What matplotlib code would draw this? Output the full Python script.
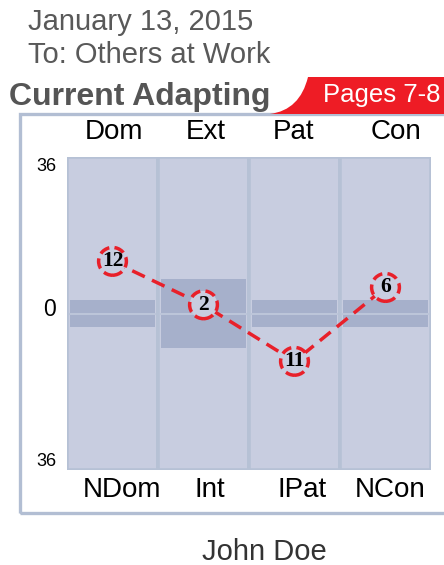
import matplotlib
matplotlib.use('Agg')
import matplotlib.pyplot as plt
from matplotlib.patches import Rectangle, PathPatch
from matplotlib.path import Path

top_labels = ['Dom', 'Ext', 'Pat', 'Con']
bottom_labels = ['NDom', 'Int', 'IPat', 'NCon']
scores = [12, 2, -11, 6]
band_half = [3, 8, 3, 3]
axis_max = 36

W, H = 444, 565


def px(x, y):
    # pixel position -> figure fraction
    return x / W, 1 - y / H


fig = plt.figure(figsize=(W / 100, H / 100), dpi=100)
plt.rcParams['font.family'] = ['Liberation Sans', 'DejaVu Sans']

# outer frame
fx, fy = px(20, 513)
fig.patches.append(Rectangle((fx, fy), 1.2, (513 - 114) / H, transform=fig.transFigure,
                             fill=False, edgecolor='#b2bed3', linewidth=2.4, zorder=1))

# red tab
verts = [px(270, 114), px(300, 110), px(308, 77), px(450, 77), px(450, 114), px(270, 114)]
codes = [Path.MOVETO, Path.CURVE3, Path.CURVE3, Path.LINETO, Path.LINETO, Path.CLOSEPOLY]
fig.patches.append(PathPatch(Path(verts, codes), transform=fig.transFigure,
                             facecolor='#ee1c25', edgecolor='none', zorder=2))

fig.text(*px(28, 22), 'January 13, 2015', fontsize=21, color='#595959', va='center')
fig.text(*px(28, 55), 'To: Others at Work', fontsize=21, color='#595959', va='center')
fig.text(*px(9, 97), 'Current Adapting', fontsize=23, color='#555555',
         fontweight='bold', va='center')
fig.text(*px(440, 95), 'Pages 7-8', fontsize=18.5, color='white', ha='right', va='center',
         zorder=3)
fig.text(*px(264, 552), 'John Doe', fontsize=21, color='#333333', ha='center', va='center')

# chart area
ax = fig.add_axes([67 / W, 1 - 470 / H, (431 - 67) / W, (470 - 157) / H])
ax.set_xlim(0, len(scores))
ax.set_ylim(-axis_max, axis_max)
ax.axis('off')

for i, hb in enumerate(band_half):
    ax.add_patch(Rectangle((i, -axis_max), 1, 2 * axis_max, facecolor='#c8cde0',
                           edgecolor='#b6c1d5', linewidth=2.6, zorder=1))
    ax.add_patch(Rectangle((i + 0.03, -hb), 0.94, 2 * hb, facecolor='#a6b0cb',
                           edgecolor='none', zorder=2))
    ax.plot([i + 0.03, i + 0.97], [0, 0], color='#bcc5d9', linewidth=1.5, zorder=3)

xs = [i + 0.5 for i in range(len(scores))]
ax.plot(xs, scores, color='#e8202a', linewidth=2.5, linestyle=(0, (4, 2.3)), zorder=4)
ax.scatter(xs, scores, s=400, facecolors='#c8cde0', edgecolors='#e8202a',
           linewidths=2.5, linestyles=(0, (3, 1.5)), zorder=5)
for x, v in zip(xs, scores):
    ax.text(x, v, str(abs(v)), fontsize=15.5, fontweight='bold', family='Liberation Serif',
            ha='center', va='center', zorder=6)

top_offsets = [0.02, 0.02, -0.01, 0.12]
bottom_offsets = [0.1, 0.07, 0.08, 0.05]
for i, (t, b) in enumerate(zip(top_labels, bottom_labels)):
    ax.text(i + 0.5 + top_offsets[i], 1.08, t, transform=ax.get_xaxis_transform(),
            fontsize=20, ha='center', va='center')
    ax.text(i + 0.5 + bottom_offsets[i], -0.065, b, transform=ax.get_xaxis_transform(),
            fontsize=20, ha='center', va='center')

fig.text(*px(56, 167), str(axis_max), fontsize=13, ha='right', va='center')
fig.text(*px(56, 310), '0', fontsize=16.5, ha='right', va='center')
fig.text(*px(56, 462), str(axis_max), fontsize=13, ha='right', va='center')

fig.savefig('out.png', dpi=100)
